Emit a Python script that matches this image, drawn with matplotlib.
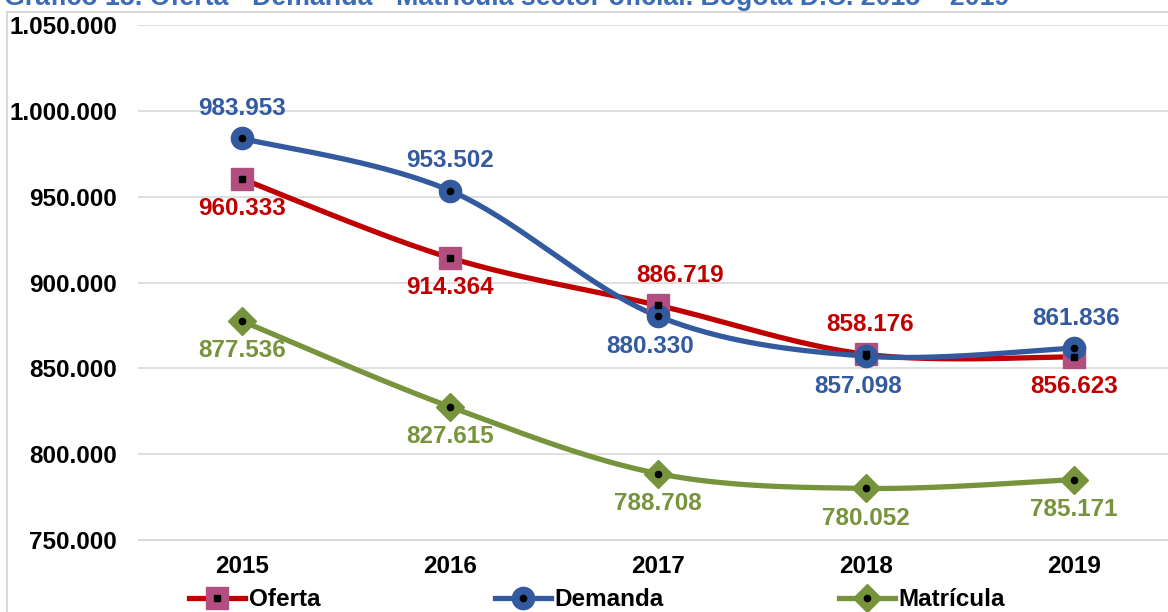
import matplotlib.pyplot as plt
from matplotlib.patches import Rectangle
from matplotlib.ticker import FuncFormatter
from matplotlib.lines import Line2D
import numpy as np

plt.rcParams['font.family'] = ['Liberation Sans', 'DejaVu Sans']

YEARS = ['2015', '2016', '2017', '2018', '2019']
OFERTA = [960333, 914364, 886719, 858176, 856623]
DEMANDA = [983953, 953502, 880330, 857098, 861836]
MATRICULA = [877536, 827615, 788708, 780052, 785171]

TITLE = 'Gráfico 15. Oferta - Demanda - Matrícula sector oficial. Bogotá D.C. 2015 – 2019'

RED = '#C00000'
PINK = '#B24F80'
BLUE = '#335A9E'
GREEN = '#77933C'
FS = 17.5


def fmt(v):
    return f'{int(v):,}'.replace(',', '.')


def smooth(xs, ys, n=40):
    '''Curva tipo Catmull-Rom (come le linee smussate di Excel)'''
    xs, ys = np.asarray(xs, float), np.asarray(ys, float)
    px = np.concatenate([[xs[0]], xs, [xs[-1]]])
    py = np.concatenate([[ys[0]], ys, [ys[-1]]])
    out_x, out_y = [], []
    t = np.linspace(0, 1, n)
    for i in range(1, len(px) - 2):
        p0, p1, p2, p3 = [np.array([px[j], py[j]]) for j in (i - 1, i, i + 1, i + 2)]
        c1 = p1 + (p2 - p0) / 6
        c2 = p2 - (p3 - p1) / 6
        b = ((1 - t) ** 3)[:, None] * p1 + (3 * (1 - t) ** 2 * t)[:, None] * c1 \
            + (3 * (1 - t) * t ** 2)[:, None] * c2 + (t ** 3)[:, None] * p2
        out_x.extend(b[:, 0]); out_y.extend(b[:, 1])
    return out_x, out_y


fig = plt.figure(figsize=(11.68, 6.12), dpi=100)
ax = fig.add_axes([138 / 1168, 72 / 612, 1040 / 1168, 515 / 612])

fig.patches.append(Rectangle((7 / 1168, -0.1), 1.2, (612 - 12) / 612 + 0.1,
                             transform=fig.transFigure, fill=False,
                             edgecolor='#D9D9D9', lw=1.5))
fig.text(4 / 1168, 1 - 5 / 612, TITLE, color='#3C6DB4', fontsize=19.3,
         fontweight='bold', va='baseline', ha='left')

x = np.arange(len(YEARS))

series = [
    ('Oferta', OFERTA, RED, PINK, 's', 'black', 's',
     [-1, -1, 1, 1, -1], [0, 0, 22, 4, 0]),
    ('Demanda', DEMANDA, BLUE, BLUE, 'o', 'black', 'o',
     [1, 1, -1, -1, 1], [0, 0, -8, -8, 2]),
    ('Matrícula', MATRICULA, GREEN, GREEN, 'D', 'black', 'o',
     [-1, -1, -1, -1, -1], [0, 0, 0, 0, 0]),
]

handles = []
for name, vals, lc, mc, mk, ic, imk, side, dx in series:
    sx, sy = smooth(x, vals)
    ax.plot(sx, sy, color=lc, lw=3.8, solid_capstyle='round', zorder=2)
    ms = 16 if mk != 'D' else 14
    ax.plot(x, vals, ls='none', marker=mk, ms=ms, mfc=mc, mec=mc, zorder=3)
    ax.plot(x, vals, ls='none', marker=imk, ms=4.5, mfc=ic, mec=ic, zorder=4)
    for xi, v, s, d in zip(x, vals, side, dx):
        ax.annotate(fmt(v), (xi, v), xytext=(d * 0.72, s * 21.5),
                    textcoords='offset points', ha='center', va='center',
                    color=lc, fontsize=FS, fontweight='bold', zorder=5)
    handles.append((Line2D([], [], color=lc, lw=3.8, marker=mk, ms=ms,
                           mfc=mc, mec=mc),
                    Line2D([], [], ls='none', marker=imk, ms=4.5,
                           mfc=ic, mec=ic), name))

ax.set_xlim(-0.5, 4.5)
ax.set_ylim(750000, 1050000)
ax.set_yticks(np.arange(750000, 1050001, 50000))
ax.yaxis.set_major_formatter(FuncFormatter(lambda v, p: fmt(v)))
ax.set_xticks(x)
ax.set_xticklabels(YEARS)
ax.tick_params(axis='y', length=0, pad=15, labelsize=FS)
ax.tick_params(axis='x', length=0, pad=11, labelsize=FS)
for lab in ax.get_xticklabels() + ax.get_yticklabels():
    lab.set_fontweight('bold')
ax.grid(axis='y', color='#D9D9D9', lw=1.2)
ax.set_axisbelow(True)
for sp in ax.spines.values():
    sp.set_visible(False)
ax.spines['bottom'].set_visible(True)
ax.spines['bottom'].set_color('#D9D9D9')

leg = fig.legend([(h[0], h[1]) for h in handles], [h[2] for h in handles],
                 loc='center', bbox_to_anchor=(597 / 1168, 12 / 612), ncol=3,
                 frameon=False, handlelength=2.3, handletextpad=0.15,
                 columnspacing=7.2, prop={'size': FS, 'weight': 'bold'})

fig.savefig('out.png', dpi=100)
